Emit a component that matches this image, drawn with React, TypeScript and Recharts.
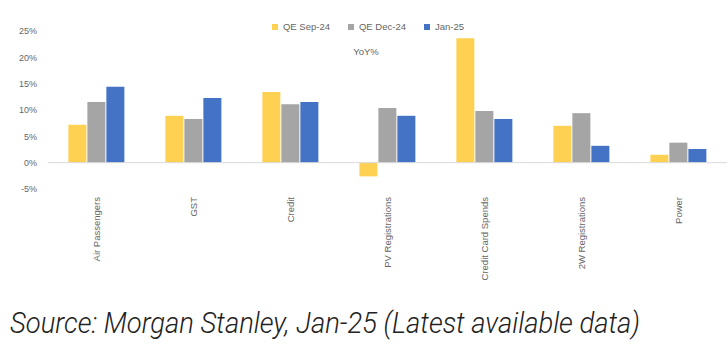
import { Bar, BarChart, XAxis, YAxis, Legend, ReferenceLine } from 'recharts'

const categories = [
  'Air Passengers',
  'GST',
  'Credit',
  'PV Registrations',
  'Credit Card Spends',
  '2W Registrations',
  'Power',
]
const seriesNames = ['QE Sep-24', 'QE Dec-24', 'Jan-25']
const seriesColors = ['#FFD152', '#A5A5A5', '#4472C4']
const qeSep24 = [7.2, 8.9, 13.4, -2.6, 23.6, 7.0, 1.5]
const qeDec24 = [11.5, 8.3, 11.1, 10.4, 9.8, 9.4, 3.8]
const jan25 = [14.4, 12.3, 11.5, 8.9, 8.3, 3.2, 2.6]
const yTicks = [-5, 0, 5, 10, 15, 20, 25]

const data = categories.map((name, i) => ({
  name,
  sep: qeSep24[i],
  dec: qeDec24[i],
  jan: jan25[i],
}))

const FONT = 'Liberation Sans, sans-serif'
const TEXT_GRAY = '#666666'

const CategoryTick = (props: any) => {
  const { x, y, payload } = props
  return (
    <g transform={`translate(${x},${y})`}>
      <text
        transform='rotate(-90)'
        textAnchor='end'
        x={-6}
        dy={3.5}
        fontSize={9.5}
        fill={TEXT_GRAY}
        fontFamily={FONT}
      >
        {payload.value}
      </text>
    </g>
  )
}

const LegendContent = () => (
  <div style={{ display: 'flex', justifyContent: 'center', gap: 18, fontSize: 9.5, color: TEXT_GRAY, fontFamily: FONT }}>
    {seriesNames.map((n, i) => (
      <span key={n} style={{ display: 'flex', alignItems: 'center' }}>
        <span style={{ width: 6, height: 6, background: seriesColors[i], marginRight: 5, display: 'inline-block' }} />
        {n}
      </span>
    ))}
  </div>
)

export default function App() {
  return (
    <div style={{ position: 'absolute', left: 0, top: 0, width: 728, height: 355, background: '#fff' }}>
      <BarChart
        width={728}
        height={290}
        data={data}
        margin={{ top: 31, right: 1, left: 0, bottom: 0 }}
        barCategoryGap='21%'
        barGap={1}
      >
        <XAxis
          dataKey='name'
          axisLine={false}
          tickLine={false}
          tickSize={0}
          height={101}
          interval={0}
          tick={<CategoryTick />}
        />
        <YAxis
          width={48}
          domain={[-5, 25]}
          ticks={yTicks}
          axisLine={false}
          tickLine={false}
          tickSize={0}
          tickMargin={11}
          tickFormatter={(v) => `${v}%`}
          tick={{ fontSize: 9, fill: TEXT_GRAY, fontFamily: FONT }}
        />
        <ReferenceLine y={0} stroke='#d9d9d9' strokeWidth={1} />
        <Legend
          verticalAlign='middle'
          align='center'
          content={<LegendContent />}
          wrapperStyle={{ top: 21, left: 0, width: 736 }}
        />
        <Bar dataKey='sep' name={seriesNames[0]} fill={seriesColors[0]} isAnimationActive={false} />
        <Bar dataKey='dec' name={seriesNames[1]} fill={seriesColors[1]} isAnimationActive={false} />
        <Bar dataKey='jan' name={seriesNames[2]} fill={seriesColors[2]} isAnimationActive={false} />
      </BarChart>
      <div
        style={{
          position: 'absolute',
          left: 0,
          top: 46,
          width: 732,
          textAlign: 'center',
          fontSize: 9.5,
          color: TEXT_GRAY,
          fontFamily: FONT,
        }}
      >
        YoY%
      </div>
      <svg style={{ position: 'absolute', left: 0, top: 295 }} width={728} height={60}>
        <text
          x={10}
          y={38}
          textLength={630}
          lengthAdjust='spacingAndGlyphs'
          fontSize={30}
          fontStyle='italic'
          fontWeight={300}
          fill='#222222'
          fontFamily='Roboto, "DejaVu Sans Condensed", sans-serif'
        >
          Source: Morgan Stanley, Jan-25 (Latest available data)
        </text>
      </svg>
    </div>
  )
}
